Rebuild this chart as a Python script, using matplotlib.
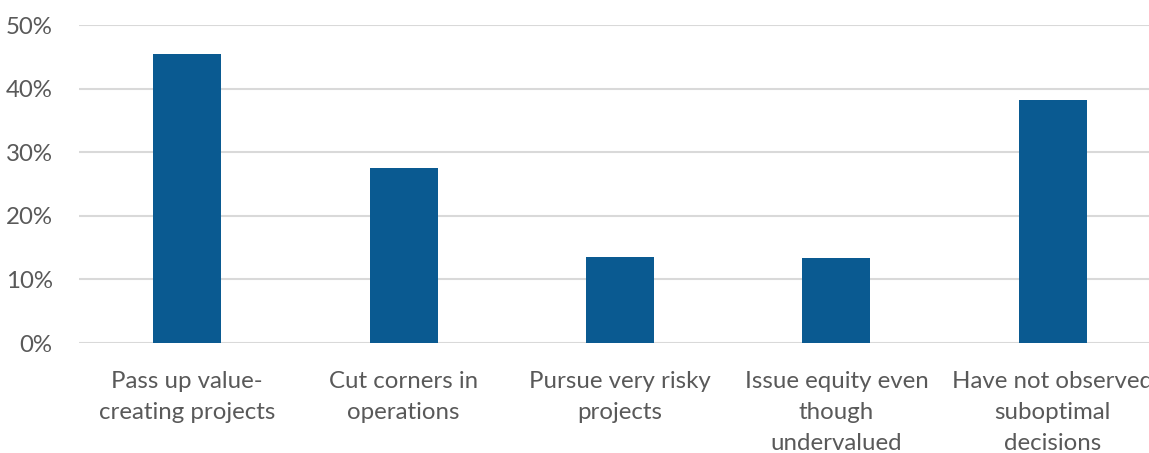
import matplotlib
matplotlib.use("Agg")
import matplotlib.pyplot as plt
from matplotlib.ticker import PercentFormatter

categories = [
    "Pass up value-\ncreating projects",
    "Cut corners in\noperations",
    "Pursue very risky\nprojects",
    "Issue equity even\nthough\nundervalued",
    "Have not observed\nsuboptimal\ndecisions",
]
values = [45.4, 27.5, 13.5, 13.4, 38.2]
yticks = [0, 10, 20, 30, 40, 50]

plt.rcParams['font.family'] = ['Lato', 'DejaVu Sans']
text_color = '#595959'

fig = plt.figure(figsize=(11.49, 4.53), dpi=100)
ax = fig.add_axes([79/1149, 110/453, (1161-79)/1149, 318/453])

x = list(range(len(categories)))
ax.bar(x, values, width=0.314, color='#0a5a91', zorder=3)

ax.set_xlim(-0.5, len(categories) - 0.5)
ax.set_ylim(0, 50)
ax.set_yticks(yticks)
ax.yaxis.set_major_formatter(PercentFormatter(decimals=0))
ax.grid(axis='y', color='#d9d9d9', linewidth=1.5, zorder=0)
ax.set_axisbelow(True)

for s in ax.spines.values():
    s.set_visible(False)

ax.set_xticks(x)
ax.set_xticklabels(categories, fontsize=17.3, color=text_color, linespacing=1.6, va='top')
ax.tick_params(axis='x', length=0, pad=20)
ax.tick_params(axis='y', length=0, pad=19, labelsize=17.3, labelcolor=text_color)

fig.savefig('out.png', dpi=100)
